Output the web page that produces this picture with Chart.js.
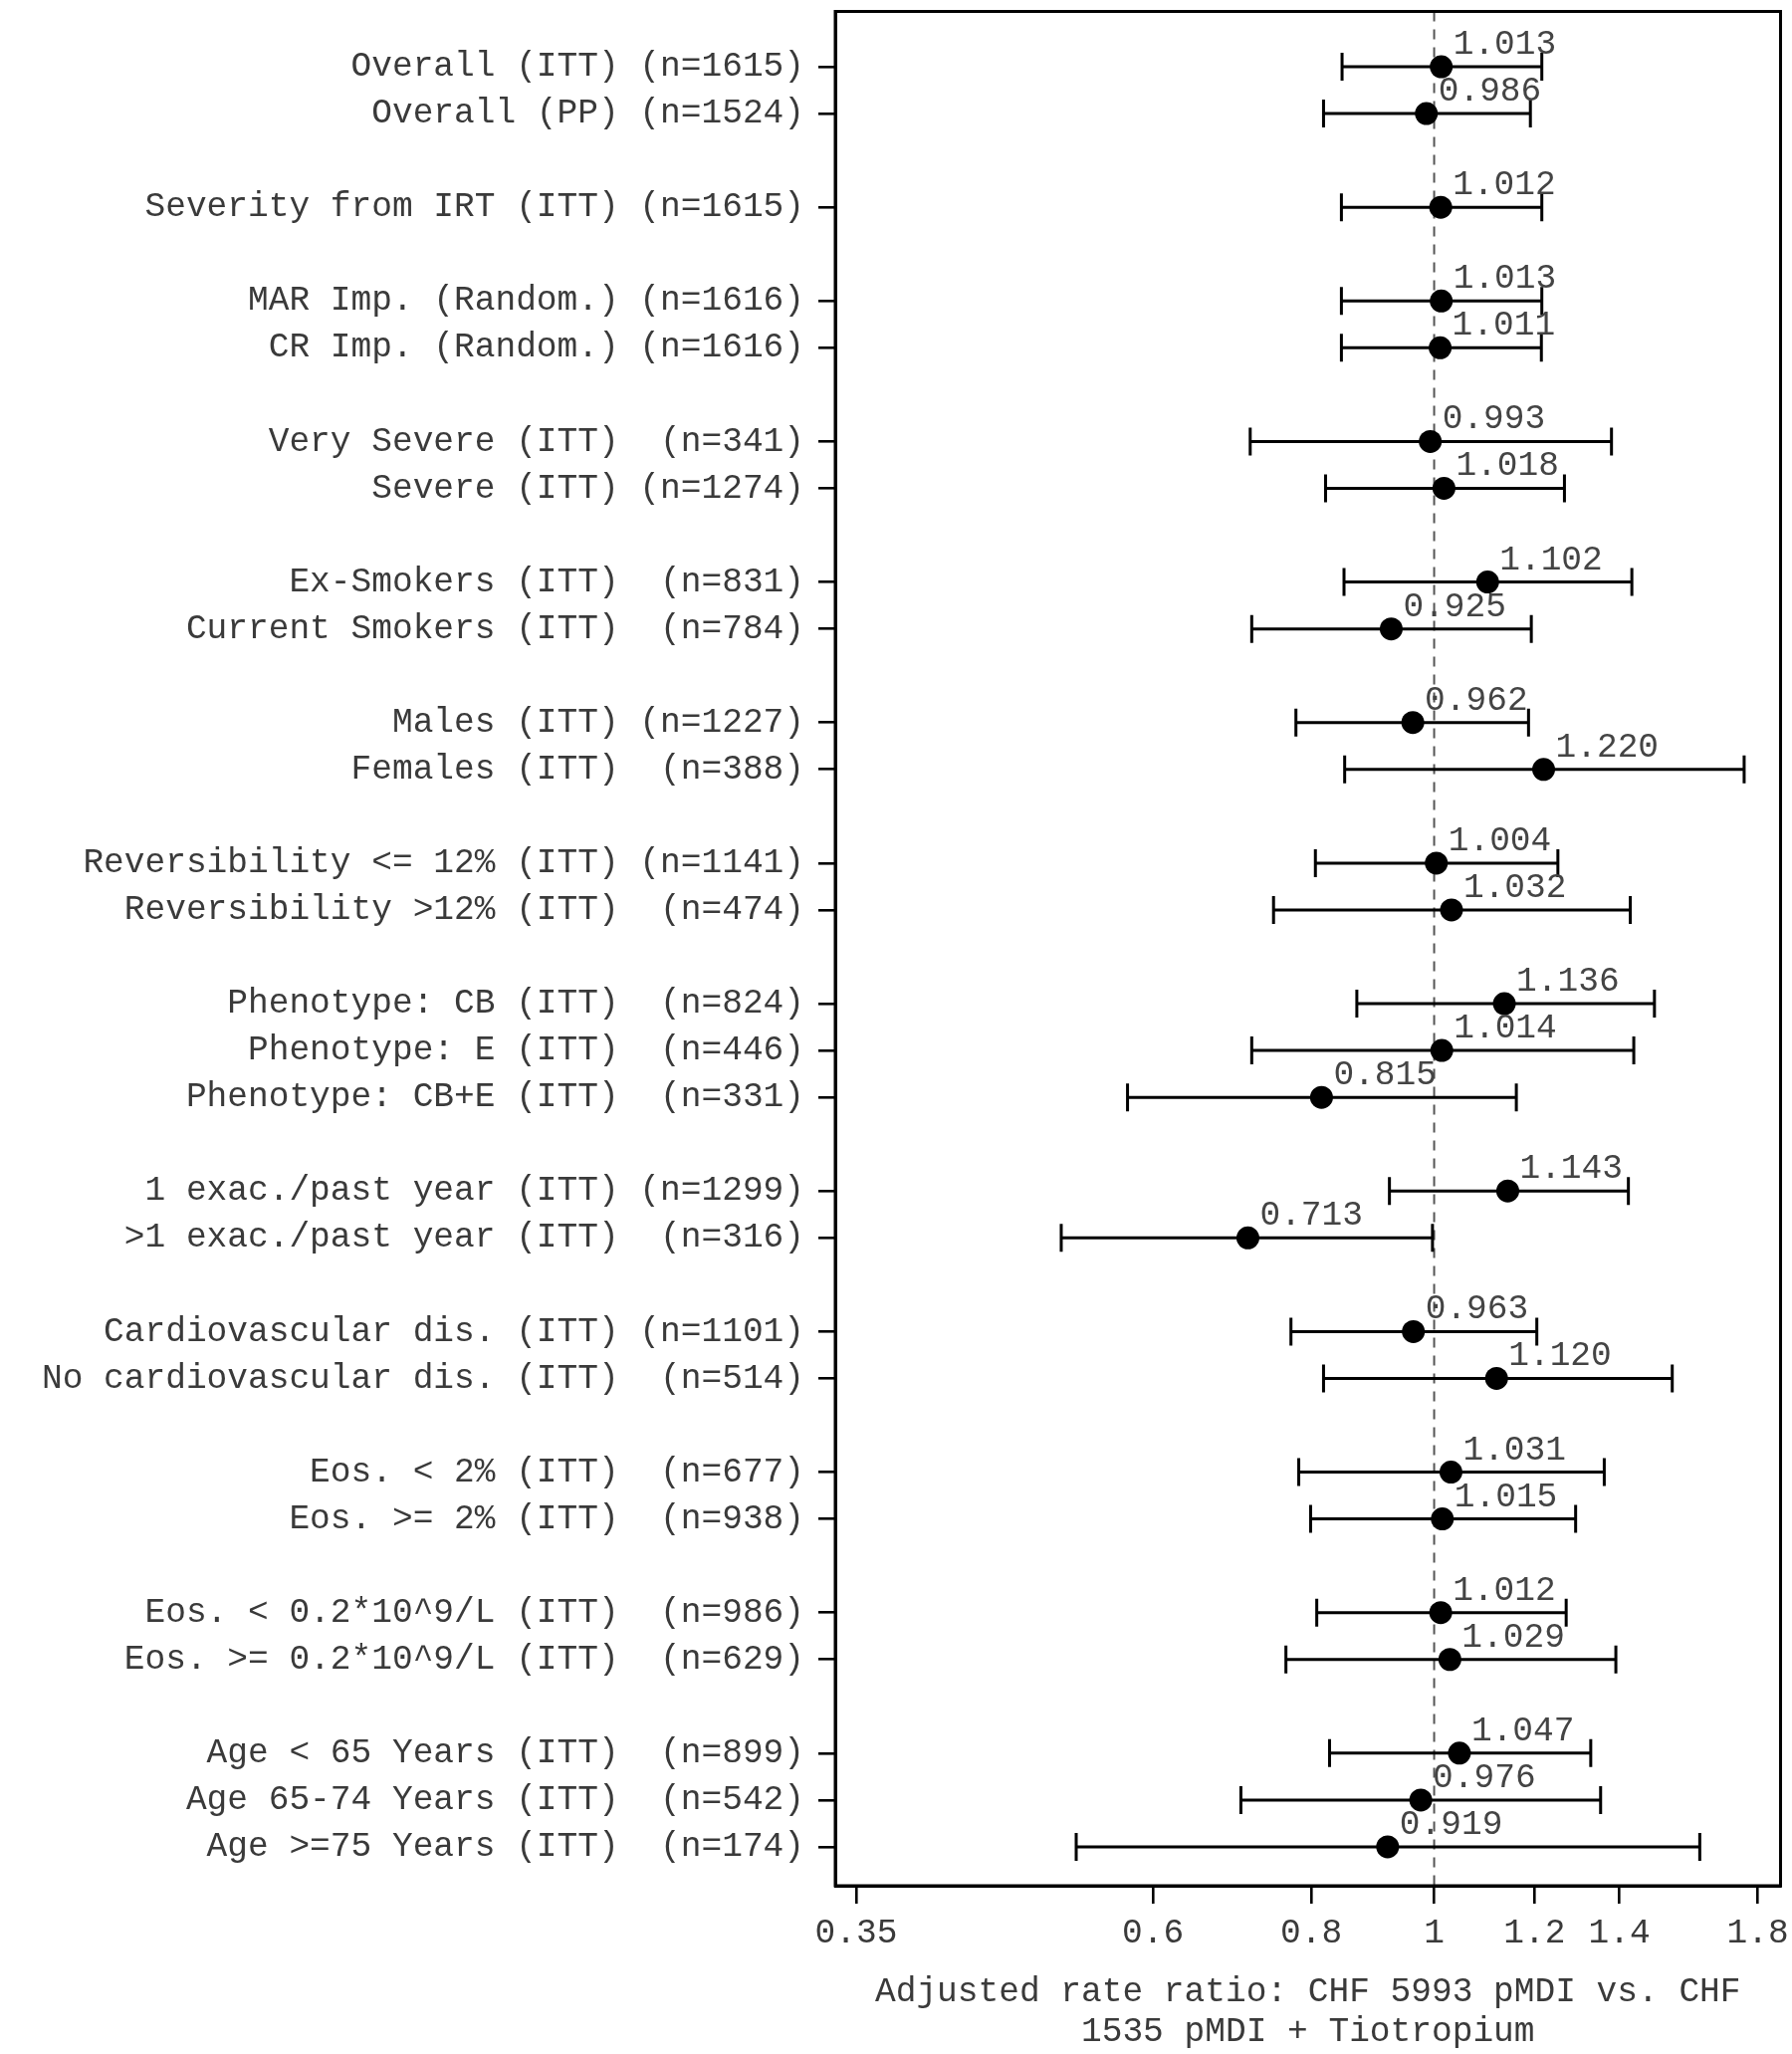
<!DOCTYPE html>
<html>
<head>
<meta charset="utf-8">
<script src="https://cdn.jsdelivr.net/npm/chart.js@4/dist/chart.umd.min.js"></script>
<style>
  html, body { margin: 0; padding: 0; background: #fff; }
  #forest { display: block; }
</style>
</head>
<body>
<canvas id="forest" width="1800" height="2063" style="width:1800px;height:2063px"></canvas>
<script>
// subgroup rows, top to bottom (slot = vertical position, gaps separate groups)
const subgroups = ['Overall', 'Overall', 'Severity from IRT', 'MAR Imp.', 'CR Imp.',
  'Very Severe', 'Severe', 'Ex-Smokers', 'Current Smokers', 'Males', 'Females',
  'Reversibility <= 12%', 'Reversibility >12%', 'Phenotype: CB', 'Phenotype: E', 'Phenotype: CB+E',
  '1 exac./past year', '>1 exac./past year', 'Cardiovascular dis.', 'No cardiovascular dis.',
  'Eos. < 2%', 'Eos. >= 2%', 'Eos. < 0.2*10^9/L', 'Eos. >= 0.2*10^9/L',
  'Age < 65 Years', 'Age 65-74 Years', 'Age >=75 Years'];
const analysisSets = ['(ITT)', '(PP)', '(ITT)', '(Random.)', '(Random.)',
  '(ITT)', '(ITT)', '(ITT)', '(ITT)', '(ITT)', '(ITT)', '(ITT)', '(ITT)', '(ITT)', '(ITT)', '(ITT)',
  '(ITT)', '(ITT)', '(ITT)', '(ITT)', '(ITT)', '(ITT)', '(ITT)', '(ITT)', '(ITT)', '(ITT)', '(ITT)'];
const sampleSizes = [1615, 1524, 1615, 1616, 1616, 341, 1274, 831, 784, 1227, 388, 1141, 474,
  824, 446, 331, 1299, 316, 1101, 514, 677, 938, 986, 629, 899, 542, 174];
const rowSlots = [0, 1, 3, 5, 6, 8, 9, 11, 12, 14, 15, 17, 18, 20, 21, 22, 24, 25, 27, 28,
  30, 31, 33, 34, 36, 37, 38];
const rateRatios = [1.013, 0.986, 1.012, 1.013, 1.011, 0.993, 1.018, 1.102, 0.925, 0.962, 1.220,
  1.004, 1.032, 1.136, 1.014, 0.815, 1.143, 0.713, 0.963, 1.120, 1.031, 1.015, 1.012, 1.029,
  1.047, 0.976, 0.919];
const lowerCI = [0.846, 0.818, 0.845, 0.845, 0.845, 0.716, 0.821, 0.849, 0.718, 0.778, 0.850,
  0.806, 0.747, 0.869, 0.718, 0.573, 0.922, 0.508, 0.771, 0.818, 0.782, 0.799, 0.808, 0.764,
  0.827, 0.704, 0.522];
const upperCI = [1.216, 1.191, 1.216, 1.216, 1.215, 1.380, 1.267, 1.432, 1.193, 1.187, 1.756,
  1.252, 1.428, 1.492, 1.437, 1.161, 1.423, 0.997, 1.205, 1.541, 1.362, 1.293, 1.271, 1.391,
  1.329, 1.353, 1.620];
const xTickValues = [0.35, 0.6, 0.8, 1, 1.2, 1.4, 1.8];
const xTitle = ['Adjusted rate ratio: CHF 5993 pMDI vs. CHF', '1535 pMDI + Tiotropium'];

const MONO = "'Liberation Mono', 'DejaVu Sans Mono', monospace";
const X_MIN = 0.337, X_MAX = 1.876;
const Y_MIN = -1.18, Y_MAX = 38.83;

function rowLabel(i) {
  const n = ('(n=' + sampleSizes[i] + ')').padStart(8, ' ');
  return subgroups[i] + ' ' + analysisSets[i] + ' ' + n;
}

// CI whiskers and the no-effect line, under the points
const whiskers = {
  id: 'whiskers',
  beforeDatasetsDraw(chart) {
    const { ctx, chartArea, scales: { x, y } } = chart;
    ctx.save();
    const x1 = x.getPixelForValue(1);
    ctx.strokeStyle = '#555';
    ctx.lineWidth = 2;
    ctx.setLineDash([10, 8]);
    ctx.beginPath();
    ctx.moveTo(x1, chartArea.top);
    ctx.lineTo(x1, chartArea.bottom);
    ctx.stroke();
    ctx.setLineDash([]);

    ctx.strokeStyle = '#000';
    ctx.lineWidth = 3;
    rowSlots.forEach((slot, i) => {
      const py = y.getPixelForValue(slot);
      const lo = x.getPixelForValue(lowerCI[i]);
      const hi = x.getPixelForValue(upperCI[i]);
      ctx.beginPath();
      ctx.moveTo(lo, py); ctx.lineTo(hi, py);
      ctx.moveTo(lo, py - 14); ctx.lineTo(lo, py + 14);
      ctx.moveTo(hi, py - 14); ctx.lineTo(hi, py + 14);
      ctx.stroke();
    });
    ctx.restore();
  },
  afterDatasetsDraw(chart) {
    const { ctx, scales: { x, y } } = chart;
    ctx.save();
    ctx.font = '34.5px ' + MONO;
    ctx.fillStyle = '#444';
    ctx.textAlign = 'left';
    ctx.textBaseline = 'alphabetic';
    rowSlots.forEach((slot, i) => {
      const px = x.getPixelForValue(rateRatios[i]);
      const py = y.getPixelForValue(slot);
      ctx.fillText(rateRatios[i].toFixed(3), px + 12, py - 13);
    });
    ctx.restore();
  },
  afterDraw(chart) {
    const { ctx, chartArea: a } = chart;
    ctx.save();
    ctx.strokeStyle = '#000';
    ctx.lineWidth = 3;
    ctx.strokeRect(a.left, a.top, a.right - a.left, a.bottom - a.top);
    ctx.restore();
  }
};

new Chart(document.getElementById('forest'), {
  type: 'scatter',
  data: {
    datasets: [{
      data: rateRatios.map((r, i) => ({ x: r, y: rowSlots[i] })),
      pointRadius: 11.5,
      pointHoverRadius: 11.5,
      backgroundColor: '#000',
      borderWidth: 0
    }]
  },
  options: {
    responsive: false,
    devicePixelRatio: 1,
    animation: false,
    layout: { padding: { top: 10, right: 9, bottom: 0, left: 0 } },
    plugins: {
      legend: { display: false },
      tooltip: { enabled: false }
    },
    scales: {
      x: {
        type: 'logarithmic',
        bounds: 'data',
        min: X_MIN,
        max: X_MAX,
        afterBuildTicks: s => {
          s.ticks = xTickValues.map(v => ({ value: v }));
          s.min = X_MIN;
          s.max = X_MAX;
        },
        afterFit: s => { s.height = 169; s.paddingLeft = 0; s.paddingRight = 0; },
        grid: { drawOnChartArea: false, drawTicks: true, tickLength: 18, color: '#000', lineWidth: 2.6 },
        border: { display: true, color: '#000', width: 3 },
        ticks: {
          autoSkip: false,
          maxRotation: 0,
          padding: 9,
          color: '#3a3a3a',
          font: { family: MONO, size: 34.5 },
          callback: v => String(v)
        },
        title: {
          display: true,
          text: xTitle,
          color: '#3a3a3a',
          font: { family: MONO, size: 34.5, lineHeight: 1.16 },
          padding: { top: 0, bottom: 2 }
        }
      },
      y: {
        type: 'linear',
        reverse: true,
        bounds: 'data',
        min: Y_MIN,
        max: Y_MAX,
        afterBuildTicks: s => {
          s.ticks = rowSlots.map(v => ({ value: v }));
          s.min = Y_MIN;
          s.max = Y_MAX;
        },
        afterFit: s => { s.width = 839; s.paddingTop = 0; s.paddingBottom = 0; },
        grid: { drawOnChartArea: false, drawTicks: true, tickLength: 17, color: '#000', lineWidth: 2.6 },
        border: { display: true, color: '#000', width: 3 },
        ticks: {
          autoSkip: false,
          padding: 14,
          color: '#3a3a3a',
          font: { family: MONO, size: 34.5 },
          callback: v => {
            const i = rowSlots.indexOf(v);
            return i >= 0 ? rowLabel(i) : '';
          }
        }
      }
    }
  },
  plugins: [whiskers]
});
</script>
</body>
</html>
